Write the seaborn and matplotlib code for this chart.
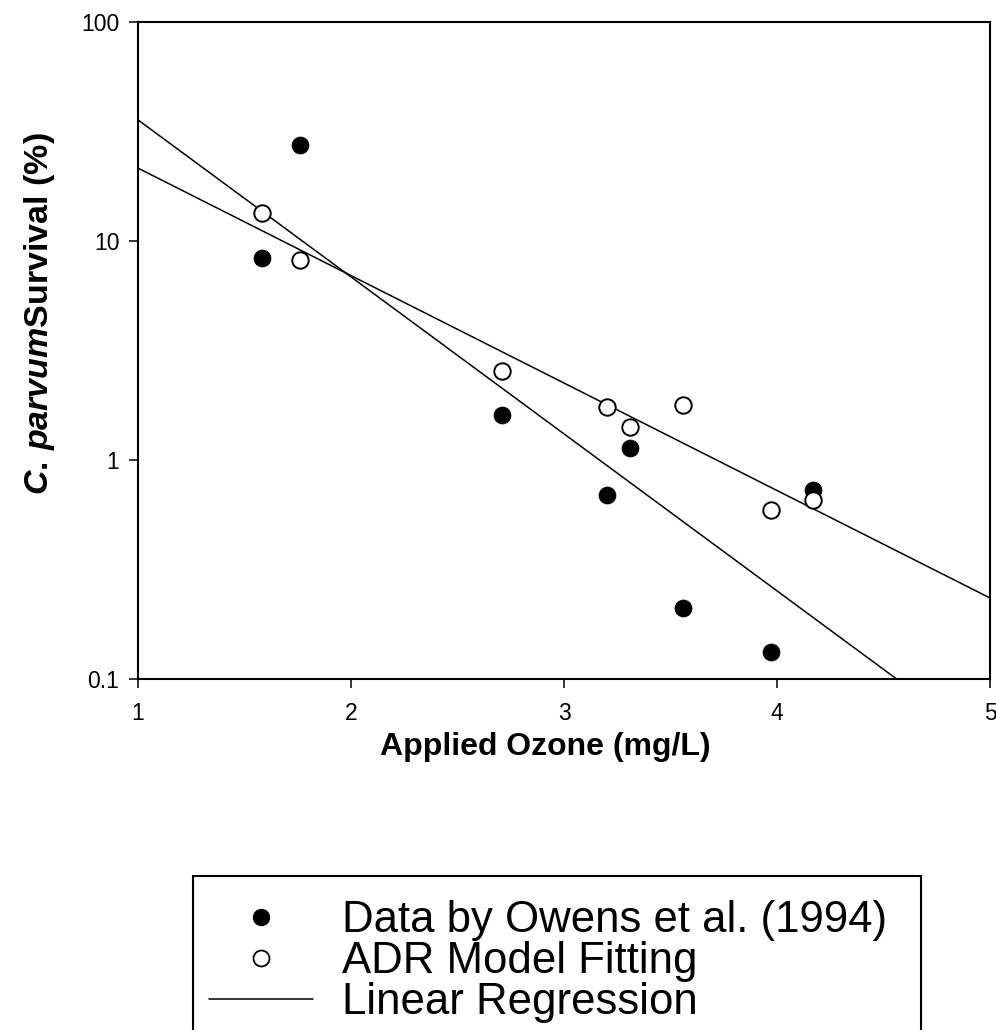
import numpy as np
import pandas as pd
import seaborn as sns
import matplotlib.pyplot as plt
from matplotlib.lines import Line2D
from matplotlib.patches import Rectangle
from matplotlib.ticker import FixedLocator, FixedFormatter, NullLocator

# values
ozone = [1.58, 1.76, 2.71, 3.20, 3.31, 3.56, 3.97, 4.17]
owens_survival = [8.36, 27.4, 1.60, 0.69, 1.13, 0.211, 0.133, 0.73]
adr_survival = [13.4, 8.19, 2.55, 1.75, 1.42, 1.78, 0.59, 0.66]

x_lim = [1, 5]
y_lim = [0.1, 100]
x_ticks = [1, 2, 3, 4, 5]
y_ticks = [0.1, 1, 10, 100]
y_tick_labels = ['0.1', '1', '10', '100']

legend_labels = ['Data by Owens et al. (1994)', 'ADR Model Fitting', 'Linear Regression']

df = pd.DataFrame({'ozone': ozone, 'owens': owens_survival, 'adr': adr_survival})

sns.set_theme(style='ticks')
plt.rcParams['font.family'] = ['Liberation Sans', 'DejaVu Sans']
plt.rcParams['mathtext.fontset'] = 'custom'
plt.rcParams['mathtext.it'] = 'Liberation Sans:bold:italic'
plt.rcParams['mathtext.rm'] = 'Liberation Sans:bold'
for key in ['text.color', 'axes.labelcolor', 'xtick.color', 'ytick.color', 'axes.edgecolor']:
    plt.rcParams[key] = 'black'

fig = plt.figure(figsize=(9.96, 10.30), dpi=100)
ax = fig.add_axes([0.1386, 0.3408, 0.8554, 0.6378])

# log-linear regression lines for each series
for col in ['owens', 'adr']:
    slope, icpt = np.polyfit(df['ozone'], np.log10(df[col]), 1)
    xs = np.array(x_lim, dtype=float)
    ax.plot(xs, 10 ** (icpt + slope * xs), color='black', lw=1.1, zorder=2)

sns.scatterplot(data=df, x='ozone', y='owens', ax=ax, color='black', s=150,
                edgecolor='black', linewidth=0.5, zorder=3)
sns.scatterplot(data=df, x='ozone', y='adr', ax=ax, color='white', s=140,
                edgecolor='black', linewidth=1.4, zorder=4)

ax.set_yscale('log')
ax.set_xlim(x_lim)
ax.set_ylim(y_lim)
ax.xaxis.set_major_locator(FixedLocator(x_ticks))
ax.yaxis.set_major_locator(FixedLocator(y_ticks))
ax.yaxis.set_major_formatter(FixedFormatter(y_tick_labels))
ax.yaxis.set_minor_locator(NullLocator())
ax.tick_params(axis='both', which='major', direction='out', length=6.5, width=1.1,
               labelsize=16.5, color='black', labelcolor='black')
ax.tick_params(axis='y', pad=7)
ax.tick_params(axis='x', pad=10)
for sp in ax.spines.values():
    sp.set_linewidth(1.5)
    sp.set_color('black')

ax.set_xlabel('Applied Ozone (mg/L)', fontsize=23, fontweight='bold')
ax.set_ylabel(r'$\mathit{C.\,parvum}$Survival (%)', fontsize=24.5, fontweight='bold')
ax.xaxis.set_label_coords(0.478, -0.0807)
ax.yaxis.set_label_coords(-0.095, 0.556)

handles = [
    Line2D([], [], ls='none', marker='o', color='black', markersize=11.5),
    Line2D([], [], ls='none', marker='o', markerfacecolor='white', markeredgecolor='black',
           markeredgewidth=1.3, markersize=11.5),
    Line2D([], [], color='black', lw=1.1),
]
fig.legend(handles, legend_labels, loc='upper left', bbox_to_anchor=(209 / 996, 1 - 900 / 1030),
           frameon=False, fontsize=31.5, borderpad=0, borderaxespad=0, labelspacing=0,
           handlelength=2.38, handletextpad=0.66)

fig.patches.append(Rectangle((193 / 996, -0.05), (921 - 193) / 996, (1030 - 876) / 1030 + 0.05,
                             transform=fig.transFigure, fill=False, edgecolor='black',
                             lw=1.5, clip_on=False))

fig.savefig('out.png', dpi=100)
